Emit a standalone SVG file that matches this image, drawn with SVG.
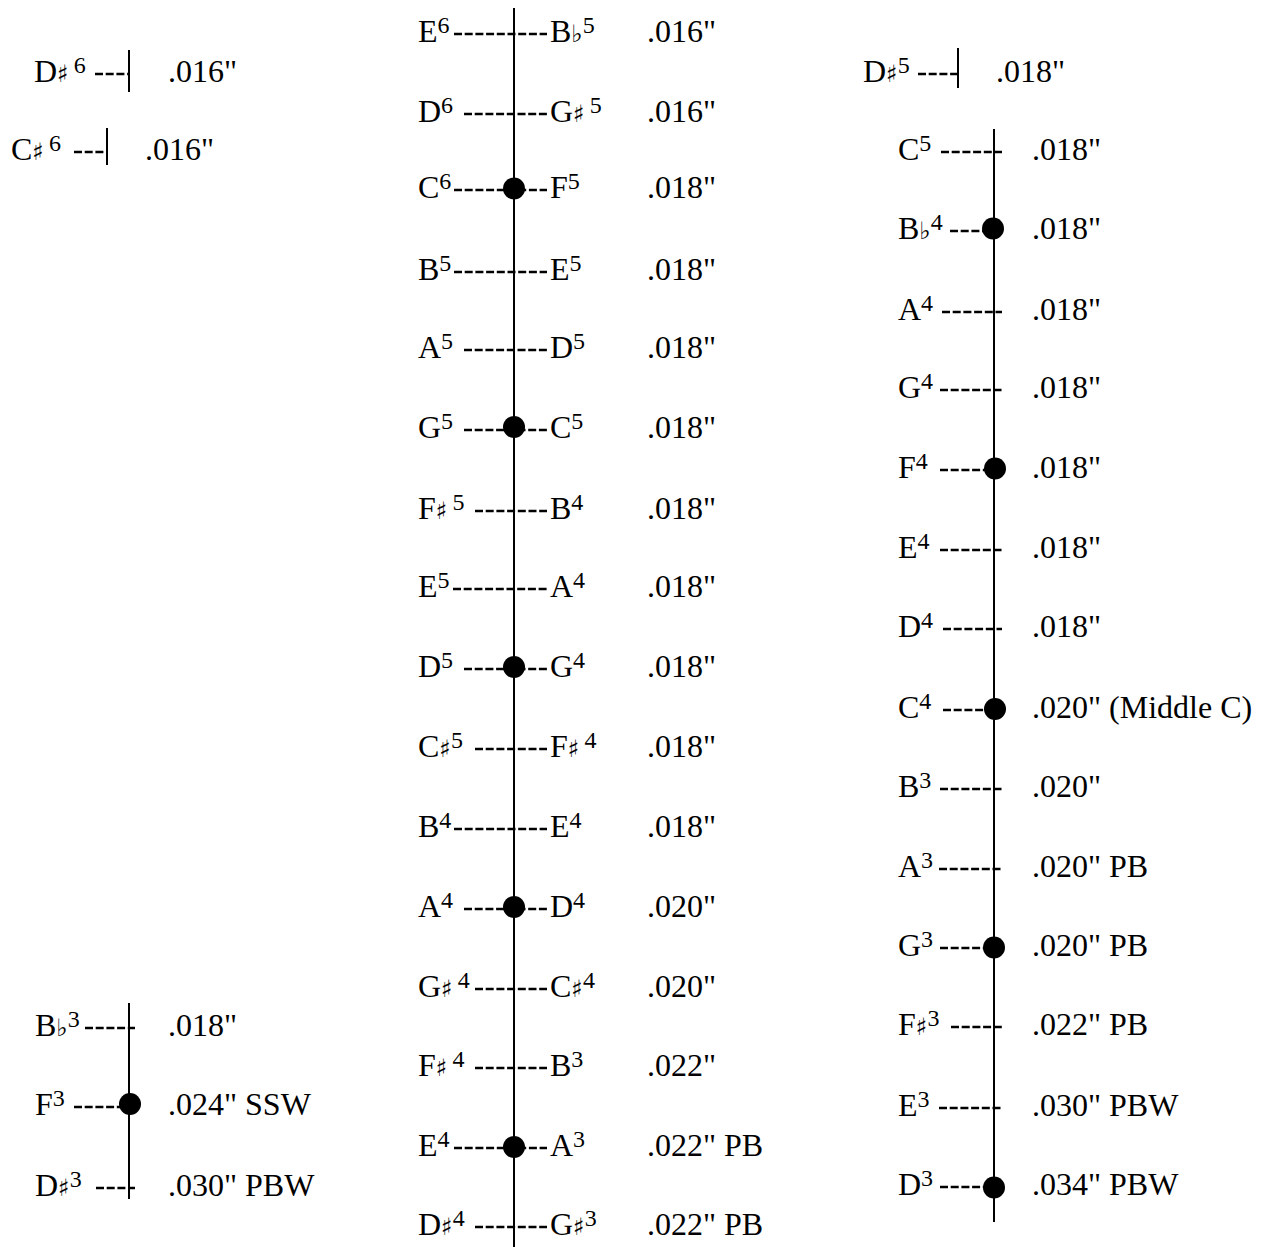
<svg xmlns="http://www.w3.org/2000/svg" width="1262" height="1247" viewBox="0 0 1262 1247">
<style>
.t{font-family:"Liberation Serif","Times New Roman",serif;font-size:32px;fill:#000}
.sup{font-size:24px}
.acc{font-family:"DejaVu Sans",sans-serif;font-size:24px}
.sp{font-size:20px}
.dash{stroke:#000;stroke-width:2.3;stroke-dasharray:8 2.7;fill:none}
.stem{stroke:#000;stroke-width:2;fill:none}
.dot{fill:#000}
</style>
<rect width="1262" height="1247" fill="#fff"/>
<g id="connectors">
<line class="stem" x1="514" y1="8" x2="514" y2="1247"/>
<line class="stem" x1="994" y1="129" x2="994" y2="1222"/>
<line class="stem" x1="129" y1="1003" x2="129" y2="1199"/>
<line class="stem" x1="129" y1="50" x2="129" y2="92"/>
<line class="stem" x1="107" y1="128" x2="107" y2="165"/>
<line class="stem" x1="958" y1="48" x2="958" y2="88"/>
<line class="dash" x1="95" y1="74" x2="129" y2="74"/>
<line class="dash" x1="74" y1="152" x2="107" y2="152"/>
<line class="dash" x1="85" y1="1028" x2="135" y2="1028"/>
<line class="dash" x1="74" y1="1107" x2="120" y2="1107"/>
<line class="dash" x1="96" y1="1188" x2="135" y2="1188"/>
<line class="dash" x1="454" y1="34" x2="547" y2="34"/>
<line class="dash" x1="464" y1="114" x2="547" y2="114"/>
<line class="dash" x1="454" y1="190" x2="547" y2="190"/>
<line class="dash" x1="454" y1="272" x2="547" y2="272"/>
<line class="dash" x1="464" y1="350" x2="547" y2="350"/>
<line class="dash" x1="464" y1="430" x2="547" y2="430"/>
<line class="dash" x1="475" y1="511" x2="547" y2="511"/>
<line class="dash" x1="453" y1="589" x2="547" y2="589"/>
<line class="dash" x1="464" y1="669" x2="547" y2="669"/>
<line class="dash" x1="475" y1="749" x2="547" y2="749"/>
<line class="dash" x1="454" y1="829" x2="547" y2="829"/>
<line class="dash" x1="464" y1="909" x2="547" y2="909"/>
<line class="dash" x1="475" y1="989" x2="547" y2="989"/>
<line class="dash" x1="475" y1="1068" x2="547" y2="1068"/>
<line class="dash" x1="454" y1="1148" x2="547" y2="1148"/>
<line class="dash" x1="475" y1="1227" x2="547" y2="1227"/>
<line class="dash" x1="918" y1="74" x2="958" y2="74"/>
<line class="dash" x1="941" y1="152" x2="1002" y2="152"/>
<line class="dash" x1="950" y1="231" x2="984" y2="231"/>
<line class="dash" x1="942" y1="312" x2="1002" y2="312"/>
<line class="dash" x1="940" y1="390" x2="1002" y2="390"/>
<line class="dash" x1="940" y1="470" x2="987" y2="470"/>
<line class="dash" x1="940" y1="550" x2="1002" y2="550"/>
<line class="dash" x1="943" y1="629" x2="1002" y2="629"/>
<line class="dash" x1="943" y1="710" x2="987" y2="710"/>
<line class="dash" x1="940" y1="789" x2="1002" y2="789"/>
<line class="dash" x1="939" y1="869" x2="1002" y2="869"/>
<line class="dash" x1="940" y1="948" x2="984" y2="948"/>
<line class="dash" x1="951" y1="1027" x2="1002" y2="1027"/>
<line class="dash" x1="939" y1="1108" x2="1002" y2="1108"/>
<line class="dash" x1="940" y1="1187" x2="984" y2="1187"/>
</g>

<g id="L-Ds6"><text class="t" x="34" y="82">D<tspan class="acc">♯</tspan><tspan class="sp"> </tspan><tspan class="sup" dy="-9">6</tspan></text><text class="t" x="168" y="82">.016"</text></g>
<g id="L-Cs6"><text class="t" x="11" y="160">C<tspan class="acc">♯</tspan><tspan class="sp"> </tspan><tspan class="sup" dy="-9">6</tspan></text><text class="t" x="145" y="160">.016"</text></g>
<g id="L-Bb3"><text class="t" x="35" y="1036">B<tspan class="acc">♭</tspan><tspan class="sup" dy="-9">3</tspan></text><text class="t" x="168" y="1036">.018"</text></g>
<g id="L-F3"><text class="t" x="35" y="1115">F<tspan class="sup" dy="-9">3</tspan></text><circle class="dot" cx="130" cy="1104" r="11"/><text class="t" x="168" y="1115">.024" SSW</text></g>
<g id="L-Ds3"><text class="t" x="35" y="1196">D<tspan class="acc">♯</tspan><tspan class="sup" dy="-9">3</tspan></text><text class="t" x="168" y="1196">.030" PBW</text></g>

<g id="C-E6"><text class="t" x="418" y="42">E<tspan class="sup" dy="-9">6</tspan></text><text class="t" x="550" y="42">B<tspan class="acc">♭</tspan><tspan class="sup" dy="-9">5</tspan></text><text class="t" x="647" y="42">.016"</text></g>
<g id="C-D6"><text class="t" x="418" y="122">D<tspan class="sup" dy="-9">6</tspan></text><text class="t" x="550" y="122">G<tspan class="acc">♯</tspan><tspan class="sp"> </tspan><tspan class="sup" dy="-9">5</tspan></text><text class="t" x="647" y="122">.016"</text></g>
<g id="C-C6"><text class="t" x="418" y="198">C<tspan class="sup" dy="-9">6</tspan></text><circle class="dot" cx="514" cy="188.5" r="11"/><text class="t" x="550" y="198">F<tspan class="sup" dy="-9">5</tspan></text><text class="t" x="647" y="198">.018"</text></g>
<g id="C-B5"><text class="t" x="418" y="280">B<tspan class="sup" dy="-9">5</tspan></text><text class="t" x="550" y="280">E<tspan class="sup" dy="-9">5</tspan></text><text class="t" x="647" y="280">.018"</text></g>
<g id="C-A5"><text class="t" x="418" y="358">A<tspan class="sup" dy="-9">5</tspan></text><text class="t" x="550" y="358">D<tspan class="sup" dy="-9">5</tspan></text><text class="t" x="647" y="358">.018"</text></g>
<g id="C-G5"><text class="t" x="418" y="438">G<tspan class="sup" dy="-9">5</tspan></text><circle class="dot" cx="514" cy="427" r="11"/><text class="t" x="550" y="438">C<tspan class="sup" dy="-9">5</tspan></text><text class="t" x="647" y="438">.018"</text></g>
<g id="C-Fs5"><text class="t" x="418" y="519">F<tspan class="acc">♯</tspan><tspan class="sp"> </tspan><tspan class="sup" dy="-9">5</tspan></text><text class="t" x="550" y="519">B<tspan class="sup" dy="-9">4</tspan></text><text class="t" x="647" y="519">.018"</text></g>
<g id="C-E5"><text class="t" x="418" y="597">E<tspan class="sup" dy="-9">5</tspan></text><text class="t" x="550" y="597">A<tspan class="sup" dy="-9">4</tspan></text><text class="t" x="647" y="597">.018"</text></g>
<g id="C-D5"><text class="t" x="418" y="677">D<tspan class="sup" dy="-9">5</tspan></text><circle class="dot" cx="514" cy="667" r="11"/><text class="t" x="550" y="677">G<tspan class="sup" dy="-9">4</tspan></text><text class="t" x="647" y="677">.018"</text></g>
<g id="C-Cs5"><text class="t" x="418" y="757">C<tspan class="acc">♯</tspan><tspan class="sup" dy="-9">5</tspan></text><text class="t" x="550" y="757">F<tspan class="acc">♯</tspan><tspan class="sp"> </tspan><tspan class="sup" dy="-9">4</tspan></text><text class="t" x="647" y="757">.018"</text></g>
<g id="C-B4"><text class="t" x="418" y="837">B<tspan class="sup" dy="-9">4</tspan></text><text class="t" x="550" y="837">E<tspan class="sup" dy="-9">4</tspan></text><text class="t" x="647" y="837">.018"</text></g>
<g id="C-A4"><text class="t" x="418" y="917">A<tspan class="sup" dy="-9">4</tspan></text><circle class="dot" cx="514" cy="907" r="11"/><text class="t" x="550" y="917">D<tspan class="sup" dy="-9">4</tspan></text><text class="t" x="647" y="917">.020"</text></g>
<g id="C-Gs4"><text class="t" x="418" y="997">G<tspan class="acc">♯</tspan><tspan class="sp"> </tspan><tspan class="sup" dy="-9">4</tspan></text><text class="t" x="550" y="997">C<tspan class="acc">♯</tspan><tspan class="sup" dy="-9">4</tspan></text><text class="t" x="647" y="997">.020"</text></g>
<g id="C-Fs4"><text class="t" x="418" y="1076">F<tspan class="acc">♯</tspan><tspan class="sp"> </tspan><tspan class="sup" dy="-9">4</tspan></text><text class="t" x="550" y="1076">B<tspan class="sup" dy="-9">3</tspan></text><text class="t" x="647" y="1076">.022"</text></g>
<g id="C-E4"><text class="t" x="418" y="1156">E<tspan class="sup" dy="-9">4</tspan></text><circle class="dot" cx="514" cy="1147" r="11"/><text class="t" x="550" y="1156">A<tspan class="sup" dy="-9">3</tspan></text><text class="t" x="647" y="1156">.022" PB</text></g>
<g id="C-Ds4"><text class="t" x="418" y="1235">D<tspan class="acc">♯</tspan><tspan class="sup" dy="-9">4</tspan></text><text class="t" x="550" y="1235">G<tspan class="acc">♯</tspan><tspan class="sup" dy="-9">3</tspan></text><text class="t" x="647" y="1235">.022" PB</text></g>

<g id="R-Ds5"><text class="t" x="863" y="82">D<tspan class="acc">♯</tspan><tspan class="sup" dy="-9">5</tspan></text><text class="t" x="996" y="82">.018"</text></g>
<g id="R-C5"><text class="t" x="898" y="160">C<tspan class="sup" dy="-9">5</tspan></text><text class="t" x="1032" y="160">.018"</text></g>
<g id="R-Bb4"><text class="t" x="898" y="239">B<tspan class="acc">♭</tspan><tspan class="sup" dy="-9">4</tspan></text><circle class="dot" cx="993" cy="228.5" r="11"/><text class="t" x="1032" y="239">.018"</text></g>
<g id="R-A4"><text class="t" x="898" y="320">A<tspan class="sup" dy="-9">4</tspan></text><text class="t" x="1032" y="320">.018"</text></g>
<g id="R-G4"><text class="t" x="898" y="398">G<tspan class="sup" dy="-9">4</tspan></text><text class="t" x="1032" y="398">.018"</text></g>
<g id="R-F4"><text class="t" x="898" y="478">F<tspan class="sup" dy="-9">4</tspan></text><circle class="dot" cx="995" cy="468.5" r="11"/><text class="t" x="1032" y="478">.018"</text></g>
<g id="R-E4"><text class="t" x="898" y="558">E<tspan class="sup" dy="-9">4</tspan></text><text class="t" x="1032" y="558">.018"</text></g>
<g id="R-D4"><text class="t" x="898" y="637">D<tspan class="sup" dy="-9">4</tspan></text><text class="t" x="1032" y="637">.018"</text></g>
<g id="R-C4"><text class="t" x="898" y="718">C<tspan class="sup" dy="-9">4</tspan></text><circle class="dot" cx="995" cy="709" r="11"/><text class="t" x="1032" y="718">.020" (Middle C)</text></g>
<g id="R-B3"><text class="t" x="898" y="797">B<tspan class="sup" dy="-9">3</tspan></text><text class="t" x="1032" y="797">.020"</text></g>
<g id="R-A3"><text class="t" x="898" y="877">A<tspan class="sup" dy="-9">3</tspan></text><text class="t" x="1032" y="877">.020" PB</text></g>
<g id="R-G3"><text class="t" x="898" y="956">G<tspan class="sup" dy="-9">3</tspan></text><circle class="dot" cx="994" cy="947.5" r="11"/><text class="t" x="1032" y="956">.020" PB</text></g>
<g id="R-Fs3"><text class="t" x="898" y="1035">F<tspan class="acc">♯</tspan><tspan class="sup" dy="-9">3</tspan></text><text class="t" x="1032" y="1035">.022" PB</text></g>
<g id="R-E3"><text class="t" x="898" y="1116">E<tspan class="sup" dy="-9">3</tspan></text><text class="t" x="1032" y="1116">.030" PBW</text></g>
<g id="R-D3"><text class="t" x="898" y="1195">D<tspan class="sup" dy="-9">3</tspan></text><circle class="dot" cx="994" cy="1187.5" r="11"/><text class="t" x="1032" y="1195">.034" PBW</text></g>
</svg>
